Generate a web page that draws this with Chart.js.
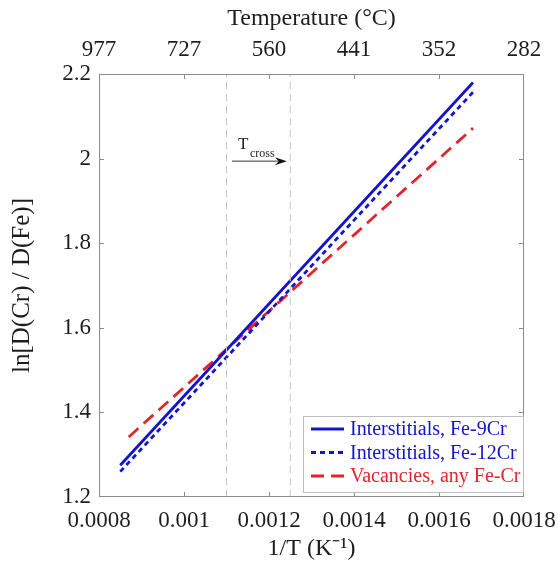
<!DOCTYPE html>
<html>
<head>
<meta charset="utf-8">
<script src="https://cdn.jsdelivr.net/npm/chart.js@4/dist/chart.umd.min.js"></script>
<style>
	html, body { margin: 0; padding: 0; background: #fff; }
	canvas { display: block; }
</style>
</head>
<body>
<canvas id="diff-chart" width="558" height="565"></canvas>
<script>
// values
const invT = [0.00085, 0.00168];
const fe9Cr = [1.275, 2.18];
const fe12Cr = [1.26, 2.157];
const vacInvT = [0.00087, 0.00168];
const vacancies = [1.342, 2.072];

const crossLines = [0.0011, 0.00125];
const arrowX = [0.001113, 0.001242];
const arrowY = 1.994;

const xTickValues = [0.0008, 0.001, 0.0012, 0.0014, 0.0016, 0.0018];
const xTickLabels = ["0.0008", "0.001", "0.0012", "0.0014", "0.0016", "0.0018"];
const tempLabels = ["977", "727", "560", "441", "352", "282"];
const yTickValues = [1.2, 1.4, 1.6, 1.8, 2, 2.2];
const yTickLabels = ["1.2", "1.4", "1.6", "1.8", "2", "2.2"];

const colors = {
	blue: "#1414c8",
	red: "#e3242b",
	guide: "#c4c4c4",
	frame: "#8c8c8c",
	text: "#1e1e1e",
};
const serif = "'Liberation Serif', 'Times New Roman', serif";

const pts = (xs, ys) => xs.map((x, i) => ({ x: x, y: ys[i] }));

const frameAndLegend = {
	id: "frameAndLegend",
	afterDraw(chart) {
		const ctx = chart.ctx;
		const area = chart.chartArea;
		const xs = chart.scales.x;
		const ys = chart.scales.y;
		ctx.save();

		// frame + inward ticks
		ctx.strokeStyle = colors.frame;
		ctx.lineWidth = 1;
		ctx.strokeRect(area.left + 0.5, area.top + 0.5, area.right - area.left - 1, area.bottom - area.top - 1);
		ctx.beginPath();
		xTickValues.slice(1, -1).forEach(v => {
			const px = Math.round(xs.getPixelForValue(v)) + 0.5;
			ctx.moveTo(px, area.bottom);
			ctx.lineTo(px, area.bottom - 5);
			ctx.moveTo(px, area.top);
			ctx.lineTo(px, area.top + 5);
		});
		yTickValues.slice(1, -1).forEach(v => {
			const py = Math.round(ys.getPixelForValue(v)) + 0.5;
			ctx.moveTo(area.left, py);
			ctx.lineTo(area.left + 5, py);
			ctx.moveTo(area.right, py);
			ctx.lineTo(area.right - 5, py);
		});
		ctx.stroke();

		// T_cross arrow
		const ax0 = xs.getPixelForValue(arrowX[0]);
		const ax1 = xs.getPixelForValue(arrowX[1]);
		const ay = ys.getPixelForValue(arrowY);
		ctx.strokeStyle = "#333";
		ctx.fillStyle = "#111";
		ctx.beginPath();
		ctx.moveTo(ax0, ay);
		ctx.lineTo(ax1 - 6, ay);
		ctx.stroke();
		ctx.beginPath();
		ctx.moveTo(ax1, ay);
		ctx.lineTo(ax1 - 12, ay - 4);
		ctx.lineTo(ax1 - 8, ay);
		ctx.lineTo(ax1 - 12, ay + 4);
		ctx.closePath();
		ctx.fill();
		ctx.fillStyle = colors.text;
		ctx.textBaseline = "alphabetic";
		ctx.textAlign = "left";
		ctx.font = "17px " + serif;
		ctx.fillText("T", ax0 + 6, ay - 12);
		ctx.font = "12px " + serif;
		ctx.fillText("cross", ax0 + 18, ay - 4);

		// legend box, bottom right inside the plot
		const sets = chart.data.datasets.filter(d => d.label);
		const boxW = 220, boxH = 76;
		const bx = area.right - 1 - boxW;
		const by = area.bottom - 5 - boxH;
		ctx.fillStyle = "#fff";
		ctx.fillRect(bx, by, boxW, boxH);
		ctx.strokeStyle = "#bdbdbd";
		ctx.lineWidth = 1;
		ctx.strokeRect(bx + 0.5, by + 0.5, boxW, boxH);
		ctx.font = "20px " + serif;
		ctx.textBaseline = "middle";
		sets.forEach((d, i) => {
			const ly = by + 13 + i * 23.5;
			ctx.strokeStyle = d.borderColor;
			ctx.lineWidth = d.borderWidth;
			ctx.setLineDash(d.borderDash || []);
			ctx.beginPath();
			ctx.moveTo(bx + 8, ly);
			ctx.lineTo(bx + 41, ly);
			ctx.stroke();
			ctx.setLineDash([]);
			ctx.fillStyle = d.borderColor;
			ctx.fillText(d.label, bx + 47, ly + 1);
		});
		ctx.restore();
	},
};

const tickFont = { family: serif, size: 23 };
const titleFont = { family: serif, size: 24 };

const noSidePad = s => { s.paddingLeft = 0; s.paddingRight = 0; };

new Chart(document.getElementById("diff-chart"), {
	type: "scatter",
	data: {
		datasets: [
			{
				data: pts([crossLines[0], crossLines[0]], [1.2, 2.2]),
				borderColor: colors.guide,
				borderWidth: 1,
				borderDash: [7, 5],
			},
			{
				data: pts([crossLines[1], crossLines[1]], [1.2, 2.2]),
				borderColor: colors.guide,
				borderWidth: 1,
				borderDash: [7, 5],
			},
			{
				label: "Interstitials, Fe-9Cr",
				data: pts(invT, fe9Cr),
				borderColor: colors.blue,
				borderWidth: 2.8,
			},
			{
				label: "Interstitials, Fe-12Cr",
				data: pts(invT, fe12Cr),
				borderColor: colors.blue,
				borderWidth: 2.8,
				borderDash: [5, 4],
			},
			{
				label: "Vacancies, any Fe-Cr",
				data: pts(vacInvT, vacancies),
				borderColor: colors.red,
				borderWidth: 2.8,
				borderDash: [13, 7],
			},
		].map(d => ({ ...d, showLine: true, pointRadius: 0, fill: false })),
	},
	options: {
		responsive: false,
		animation: false,
		layout: { padding: { right: 34 } },
		plugins: {
			legend: { display: false },
			tooltip: { enabled: false },
		},
		scales: {
			x: {
				type: "linear",
				position: "bottom",
				min: 0.0008,
				max: 0.0018,
				afterBuildTicks: s => { s.ticks = xTickValues.map(v => ({ value: v })); },
				afterFit: s => { s.height = 68; noSidePad(s); },
				grid: { display: false, drawTicks: false },
				border: { display: false },
				ticks: {
					color: colors.text,
					font: tickFont,
					padding: 10,
					maxRotation: 0,
					autoSkip: false,
					callback: (v, i) => xTickLabels[i],
				},
				title: {
					display: true,
					text: "1/T (K\u207B\u00B9)",
					color: colors.text,
					font: titleFont,
					padding: { top: 0, bottom: 2 },
				},
			},
			x2: {
				type: "linear",
				position: "top",
				min: 0.0008,
				max: 0.0018,
				afterBuildTicks: s => { s.ticks = xTickValues.map(v => ({ value: v })); },
				afterFit: s => { s.height = 74; noSidePad(s); },
				grid: { display: false, drawTicks: false },
				border: { display: false },
				ticks: {
					color: colors.text,
					font: tickFont,
					padding: 10,
					maxRotation: 0,
					autoSkip: false,
					callback: (v, i) => tempLabels[i],
				},
				title: {
					display: true,
					text: "Temperature (\u00B0C)",
					color: colors.text,
					font: titleFont,
					padding: { top: 4, bottom: 0 },
				},
			},
			y: {
				min: 1.2,
				max: 2.2,
				afterBuildTicks: s => { s.ticks = yTickValues.map(v => ({ value: v })); },
				afterFit: s => { s.width = 99; s.paddingTop = 0; s.paddingBottom = 0; },
				grid: { display: false, drawTicks: false },
				border: { display: false },
				ticks: {
					color: colors.text,
					font: tickFont,
					padding: 8,
					autoSkip: false,
					callback: (v, i) => yTickLabels[i],
				},
				title: {
					display: true,
					text: "ln[D(Cr) / D(Fe)]",
					color: colors.text,
					font: { family: serif, size: 25 },
					padding: { top: 7, bottom: 0 },
				},
			},
		},
	},
	plugins: [frameAndLegend],
});
</script>
</body>
</html>
